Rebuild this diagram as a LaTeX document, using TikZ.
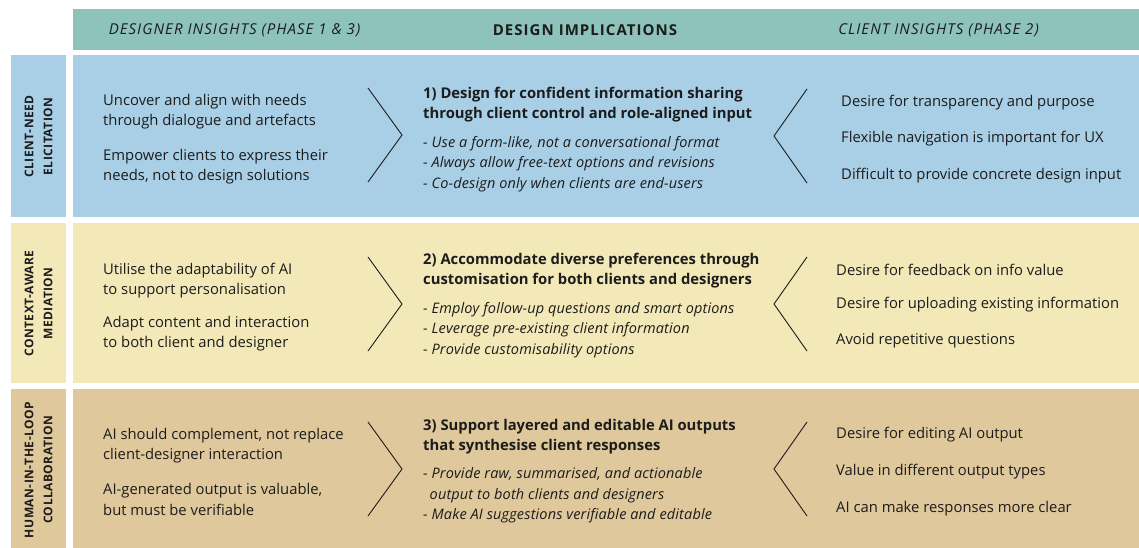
\documentclass[tikz,border=0pt]{standalone}
\usepackage{fontspec}
\setmainfont{Open Sans}
\usetikzlibrary{calc}
\definecolor{headteal}{RGB}{141,195,186}
\definecolor{needblue}{RGB}{168,207,230}
\definecolor{mediayellow}{RGB}{243,232,184}
\definecolor{loopbrown}{RGB}{223,200,155}
\definecolor{ink}{RGB}{28,28,28}
\def\chevron[#1](#2:#3:#4){\draw[#1] (#2, #4-47) -- (#3, #4) -- (#2, #4+47);}
\tikzset{
  body/.style={anchor=west, align=left, inner sep=0pt, text=ink, font=\fontsize{14.8}{20.5}\selectfont},
  title/.style={body, font=\fontsize{14.8}{20}\selectfont\bfseries},
  bullets/.style={body, font=\fontsize{14.5}{20.5}\selectfont\itshape\addfontfeature{LetterSpace=1}},
  head/.style={inner sep=0pt, text=ink, font=\fontsize{15}{17}\selectfont\addfontfeature{LetterSpace=7}},
  side/.style={rotate=90, align=center, inner sep=0pt, text=ink, font=\fontsize{12}{19}\selectfont\bfseries\addfontfeature{LetterSpace=4}},
  chev/.style={line width=0.9pt, color=ink}
}
\begin{document}
\begin{tikzpicture}[x=1pt, y=-1pt]
			%%%%% START %%%%%
			\useasboundingbox (0, 0) rectangle (1139, 548);
			
			\fill[headteal] (73, 9) rectangle (1139, 50);
			\node[head] (hdesigner) at (234.5, 30.5) {\itshape DESIGNER INSIGHTS (PHASE 1 \& 3)};
			\node[head] (himpl) at (585, 30.5) {\bfseries DESIGN IMPLICATIONS};
			\node[head] (hclient) at (938.5, 30.5) {\itshape CLIENT INSIGHTS (PHASE 2)};
			
			%%%%% ROW 1 %%%%%
			\fill[needblue] (11, 55) rectangle (66, 217);
			\fill[needblue] (73, 55) rectangle (1139, 217);
			\node[side] (sneed) at (38.5, 136.5) {CLIENT-NEED\\ELICITATION};
			
			\node[body] (dneed1) at (103, 111.5) {Uncover and align with needs\\through dialogue and artefacts};
			\node[body] (dneed2) at (103, 166.5) {Empower clients to express their\\needs, not to design solutions};
			\chevron[chev](368:402:135)
			\node[title] (ineed) at (423, 104.5) {1) Design for confident information sharing\\through client control and role-aligned input};
			\node[bullets] (ineedlist) at (423, 164) {- Use a form-like, not a conversational format\\- Always allow free-text options and revisions\\- Co-design only when clients are end-users};
			\chevron[chev](807:774:136)
			\node[body] (cneed1) at (841, 102.5) {Desire for transparency and purpose};
			\node[body] (cneed2) at (841, 138.5) {Flexible navigation is important for UX};
			\node[body] (cneed3) at (841, 175.5) {Difficult to provide concrete design input};
			
			%%%%% ROW 2 %%%%%
			\fill[mediayellow] (11, 223) rectangle (66, 383);
			\fill[mediayellow] (73, 223) rectangle (1139, 383);
			\node[side] (smedia) at (38.5, 303.5) {CONTEXT-AWARE\\MEDIATION};
			
			\node[body] (dmedia1) at (103, 280.5) {Utilise the adaptability of AI\\to support personalisation};
			\node[body] (dmedia2) at (103, 333.5) {Adapt content and interaction\\to both client and designer};
			\chevron[chev](368:402:304)
			\node[title] (imedia) at (423, 270.5) {2) Accommodate diverse preferences through\\customisation for both clients and designers};
			\node[bullets] (imedialist) at (423, 330) {- Employ follow-up questions and smart options\\- Leverage pre-existing client information\\- Provide customisability options};
			\chevron[chev](807:774:304)
			\node[body] (cmedia1) at (836, 270) {Desire for feedback on info value};
			\node[body] (cmedia2) at (836, 305) {Desire for uploading existing information};
			\node[body] (cmedia3) at (836, 341) {Avoid repetitive questions};
			
			%%%%% ROW 3 %%%%%
			\fill[loopbrown] (11, 389) rectangle (66, 548);
			\fill[loopbrown] (73, 389) rectangle (1139, 548);
			\node[side] (sloop) at (38.5, 470) {HUMAN-IN-THE-LOOP\\COLLABORATION};
			
			\node[body] (dloop1) at (103, 445.5) {AI should complement, not replace\\client-designer interaction};
			\node[body] (dloop2) at (103, 499.5) {AI-generated output is valuable,\\but must be verifiable};
			\chevron[chev](368:402:469)
			\node[title] (iloop) at (423, 437) {3) Support layered and editable AI outputs\\that synthesise client responses};
			\node[bullets] (iplooplist) at (423, 495.5) {- Provide raw, summarised, and actionable\\\hspace*{0.45em}output to both clients and designers\\- Make AI suggestions verifiable and editable};
			\chevron[chev](807:774:469)
			\node[body] (cloop1) at (836, 435) {Desire for editing AI output};
			\node[body] (cloop2) at (836, 471.5) {Value in different output types};
			\node[body] (cloop3) at (836, 508.5) {AI can make responses more clear};
			
			%%%%% END %%%%%
\end{tikzpicture}
\end{document}
